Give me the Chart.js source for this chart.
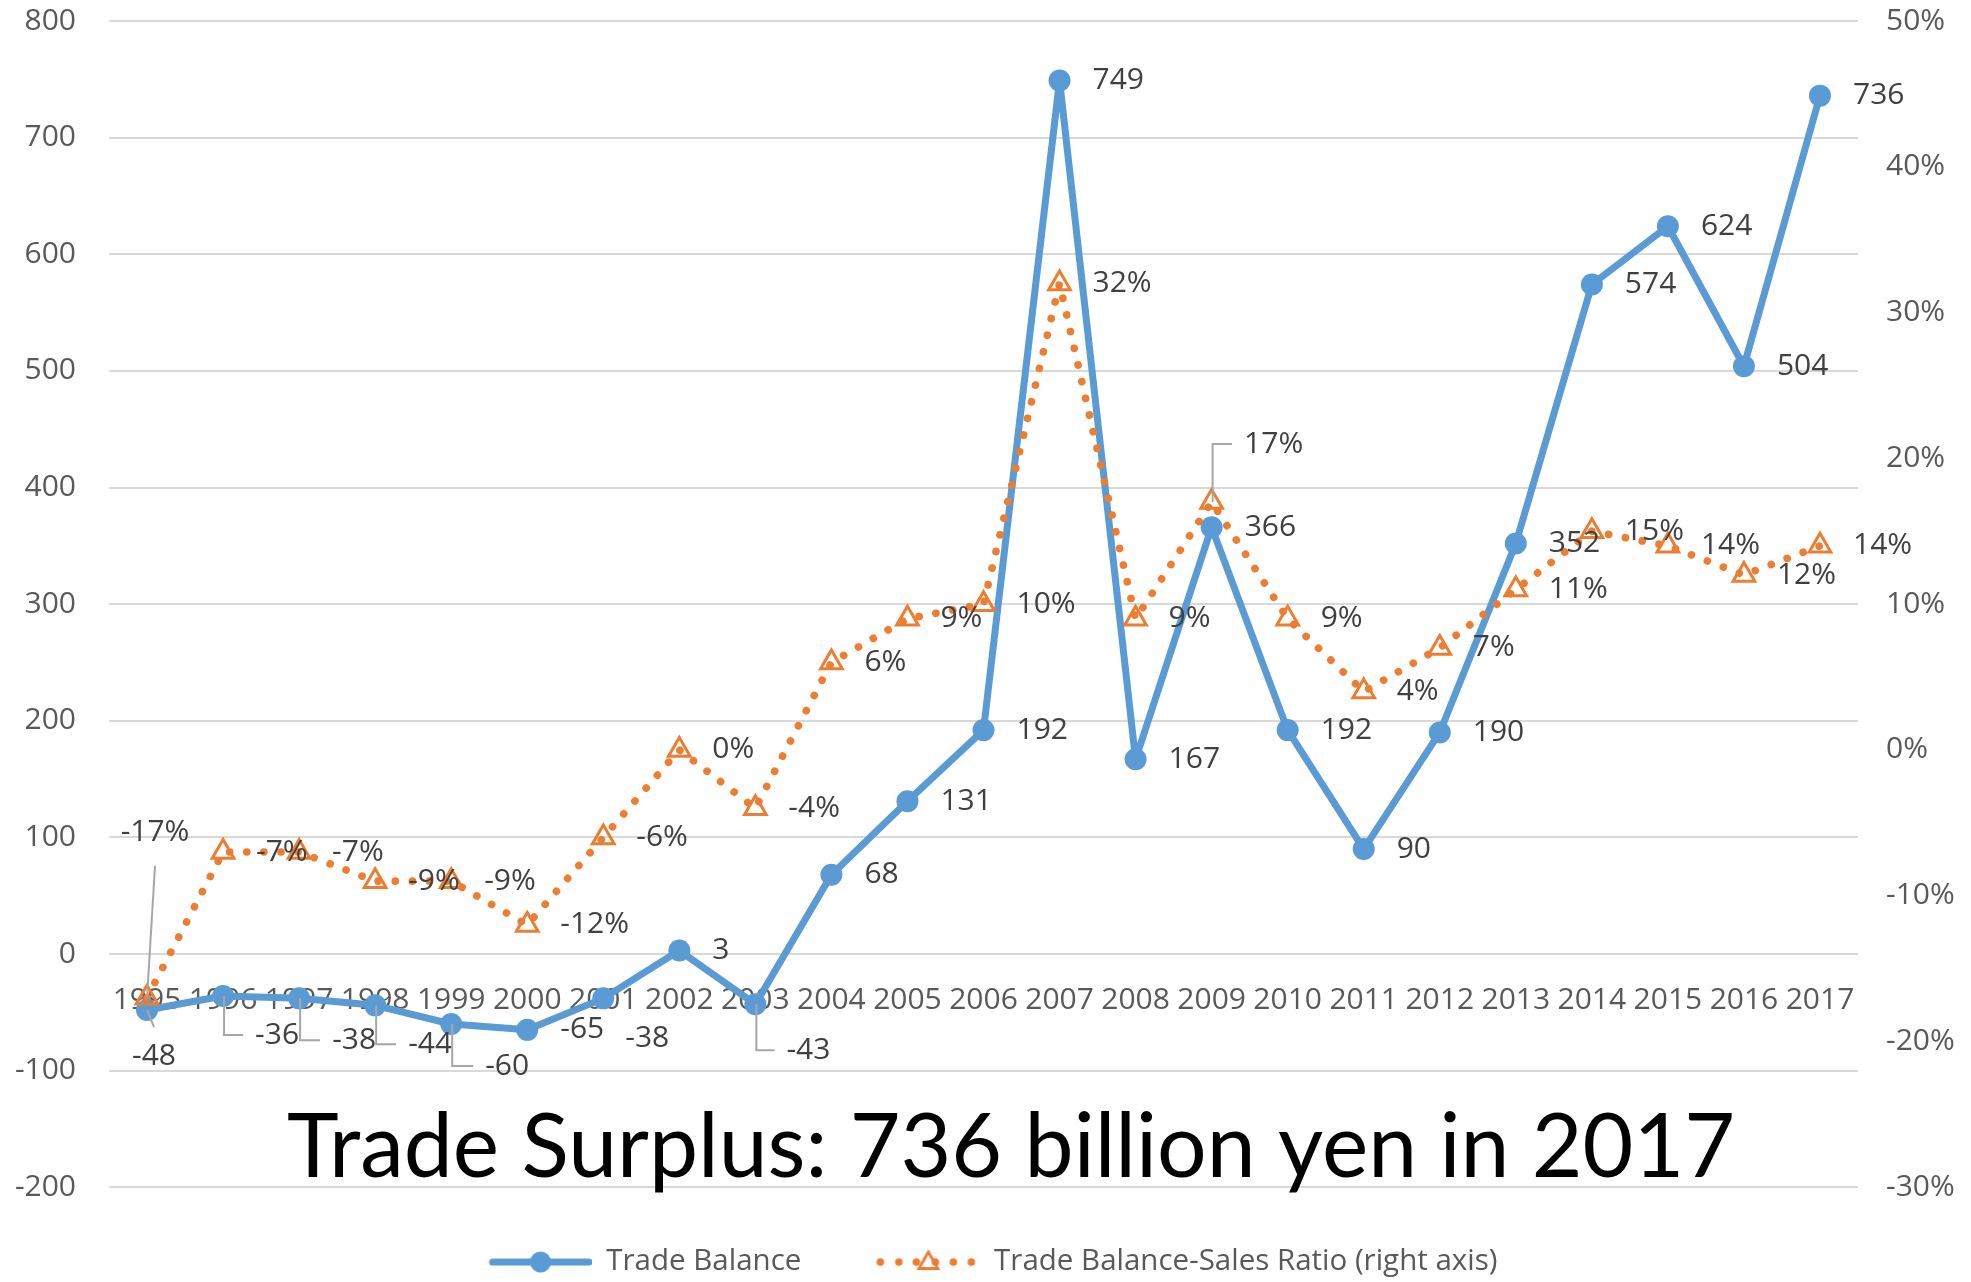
<!DOCTYPE html>
<html lang="en">
<head>
  <meta charset="UTF-8">
  <title>Trade Balance</title>
  <script src="https://cdn.jsdelivr.net/npm/chart.js"></script>
  <style>
    html, body { margin: 0; padding: 0; background: #fff; }
  </style>
</head>
<body>
  <canvas id="tradeChart" width="1971" height="1282"></canvas>

  <script>
    // Yearly figures
    var years = ['1995', '1996', '1997', '1998', '1999', '2000', '2001', '2002', '2003', '2004', '2005', '2006',
                 '2007', '2008', '2009', '2010', '2011', '2012', '2013', '2014', '2015', '2016', '2017'];
    var tradeBalance = [-48, -36, -38, -44, -60, -65, -38, 3, -43, 68, 131, 192,
                        749, 167, 366, 192, 90, 190, 352, 574, 624, 504, 736];   // billion yen
    var salesRatio = [-17, -7, -7, -9, -9, -12, -6, 0, -4, 6, 9, 10,
                      32, 9, 17, 9, 4, 7, 11, 15, 14, 12, 14];                  // % of sales

    // Axis ticks
    var balanceTicks = [-200, -100, 0, 100, 200, 300, 400, 500, 600, 700, 800];
    var ratioTicks = [-30, -20, -10, 0, 10, 20, 30, 40, 50];

    var headline = 'Trade Surplus: 736 billion yen in 2017';

    var BLUE = '#5B9BD5';
    var ORANGE = '#ED7D31';
    var HIDDEN = 'rgba(0, 0, 0, 0)';

    Chart.defaults.font.family = "'Open Sans', sans-serif";
    Chart.defaults.font.size = 30;
    Chart.defaults.color = '#595959';

    // Labels that sit away from their point: [dx, dy, leader] for the label centre
    var balanceLabelMoves = {
      0: [7, 46, 'slant'],
      1: [54, 39, 'elbow'],
      2: [55, 42, 'elbow'],
      3: [55, 39, 'elbow'],
      4: [56, 42, 'elbow'],
      6: [44, 40, null],
      8: [53, 46, 'elbow']
    };
    var ratioLabelMoves = {
      0: [8, -165, 'slant'],
      14: [62, -58, 'elbow']
    };

    // legend swatch: line sample with its marker, short blank lead-in on the left
    function makeSwatch(kind) {
      var c = document.createElement('canvas');
      c.width = 118;
      c.height = 28;
      var g = c.getContext('2d');
      var x0 = 15, cy = 14;
      if (kind === 'solid') {
        g.strokeStyle = BLUE;
        g.lineWidth = 7;
        g.lineCap = 'round';
        g.beginPath();
        g.moveTo(x0 + 4, cy);
        g.lineTo(x0 + 100, cy);
        g.stroke();
        g.fillStyle = BLUE;
        g.beginPath();
        g.arc(x0 + 52, cy, 10.5, 0, Math.PI * 2);
        g.fill();
      } else {
        g.fillStyle = ORANGE;
        [4, 22.5, 40, 59, 77, 95].forEach(function (dx) {
          g.beginPath();
          g.arc(x0 + dx, cy, 3.8, 0, Math.PI * 2);
          g.fill();
        });
        var r = 11, tx = x0 + 52, ty = cy + 1;
        g.strokeStyle = ORANGE;
        g.lineWidth = 2.8;
        g.beginPath();
        g.moveTo(tx, ty - r);
        g.lineTo(tx + r * 0.866, ty + r * 0.5);
        g.lineTo(tx - r * 0.866, ty + r * 0.5);
        g.closePath();
        g.stroke();
      }
      return c;
    }
    var swatches = [makeSwatch('solid'), makeSwatch('dotted')];

    // value labels next to each point, with leader lines for the moved ones
    var valueLabels = {
      id: 'valueLabels',
      afterDatasetsDraw: function (chart) {
        var ctx = chart.ctx;
        ctx.save();
        ctx.font = "30px 'Open Sans'";
        ctx.textBaseline = 'middle';
        chart.data.datasets.forEach(function (ds, di) {
          var meta = chart.getDatasetMeta(di);
          var moves = di === 0 ? balanceLabelMoves : ratioLabelMoves;
          meta.data.forEach(function (pt, i) {
            var v = ds.data[i];
            var text = di === 0 ? String(v) : v + '%';
            var mv = moves[i];
            ctx.fillStyle = '#404040';
            if (!mv) {
              ctx.textAlign = 'left';
              ctx.fillText(text, pt.x + 33, pt.y);
              return;
            }
            var lx = pt.x + mv[0], ly = pt.y + mv[1];
            var w = ctx.measureText(text).width;
            ctx.textAlign = 'center';
            ctx.fillText(text, lx, ly);
            if (!mv[2]) return;
            ctx.strokeStyle = '#A6A6A6';
            ctx.lineWidth = 2;
            ctx.beginPath();
            if (mv[2] === 'elbow') {
              ctx.moveTo(pt.x + 1, pt.y);
              ctx.lineTo(pt.x + 1, ly);
              ctx.lineTo(lx - w / 2 - 12, ly);
            } else {
              var below = mv[1] > 0;
              ctx.moveTo(pt.x, pt.y);
              ctx.lineTo(lx, below ? ly - 29 : ly + 33);
            }
            ctx.stroke();
          });
        });
        ctx.restore();
      }
    };

    // large headline laid over the lower part of the plot
    var headlineText = {
      id: 'headlineText',
      afterDraw: function (chart) {
        var ctx = chart.ctx;
        ctx.save();
        ctx.font = "89px Lato";
        var w = ctx.measureText(headline).width;
        ctx.translate(1011, 1177);
        ctx.scale(1448 / w, 1);
        ctx.fillStyle = '#000';
        ctx.textAlign = 'center';
        ctx.textBaseline = 'alphabetic';
        ctx.fillText(headline, 0, 0);
        ctx.restore();
      }
    };

    var ctx = document.getElementById('tradeChart').getContext('2d');
    var tradeChart = new Chart(ctx, {
      type: 'line',
      data: {
        labels: years,
        datasets: [{
          label: 'Trade Balance',
          data: tradeBalance,
          yAxisID: 'y',
          borderColor: BLUE,
          backgroundColor: BLUE,
          borderWidth: 7,
          borderJoinStyle: 'round',
          pointStyle: 'circle',
          pointRadius: 11,
          pointBorderWidth: 0,
          pointBackgroundColor: BLUE,
          pointBorderColor: BLUE,
          order: 2
        },
        {
          label: 'Trade Balance-Sales Ratio (right axis)',
          data: salesRatio,
          yAxisID: 'y1',
          borderColor: ORANGE,
          backgroundColor: ORANGE,
          borderWidth: 7.6,
          borderDash: [0.1, 17],
          borderCapStyle: 'round',
          pointStyle: 'triangle',
          pointRadius: 12.5,
          pointBorderWidth: 3,
          pointBackgroundColor: 'rgba(255, 255, 255, 0)',
          pointBorderColor: ORANGE,
          order: 1
        }]
      },
      options: {
        responsive: false,
        devicePixelRatio: 1,
        animation: false,
        layout: { padding: { top: 21, right: 0, bottom: 0, left: 0 } },
        scales: {
          x: {
            type: 'category',
            offset: true,
            position: { y: 0 },
            z: 1,
            grid: { display: false, drawTicks: false },
            border: { display: false },
            ticks: { padding: 28, color: '#595959', maxRotation: 0, minRotation: 0, autoSkip: false }
          },
          y: {
            position: 'left',
            min: balanceTicks[0],
            max: balanceTicks[balanceTicks.length - 1],
            afterBuildTicks: function (s) {
              s.ticks = balanceTicks.map(function (v) { return { value: v }; });
            },
            afterFit: function (s) { s.width = 109; },
            grid: { color: '#D9D9D9', lineWidth: 2, drawTicks: true, tickLength: 33, tickColor: HIDDEN },
            border: { display: false },
            ticks: { padding: 0, color: '#595959' }
          },
          y1: {
            position: 'right',
            min: ratioTicks[0],
            max: ratioTicks[ratioTicks.length - 1],
            afterBuildTicks: function (s) {
              s.ticks = ratioTicks.map(function (v) { return { value: v }; });
            },
            afterFit: function (s) { s.width = 113; },
            grid: { drawOnChartArea: false, drawTicks: true, tickLength: 28, tickColor: HIDDEN },
            border: { display: false },
            ticks: {
              padding: 0,
              color: '#595959',
              callback: function (v) { return v + '%'; }
            }
          }
        },
        plugins: {
          tooltip: { enabled: false },
          legend: {
            position: 'bottom',
            maxHeight: 94.7,
            labels: {
              usePointStyle: true,
              pointStyleWidth: 118,
              padding: 60,
              color: '#595959',
              font: { size: 29.5 },
              generateLabels: function (chart) {
                var items = Chart.defaults.plugins.legend.labels.generateLabels(chart);
                items.sort(function (a, b) { return a.datasetIndex - b.datasetIndex; });
                items.forEach(function (it) { it.pointStyle = swatches[it.datasetIndex]; });
                return items;
              }
            }
          }
        }
      },
      plugins: [valueLabels, headlineText]
    });
  </script>
</body>
</html>
